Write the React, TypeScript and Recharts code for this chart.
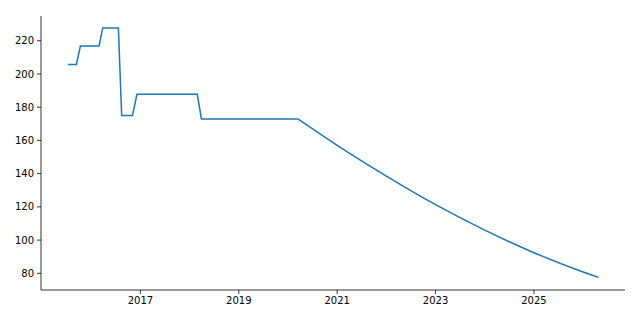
import React from "react";
import { LineChart, Line, XAxis, YAxis } from "recharts";

// step part: year (decimal) and value
const stepYears = [
  2015.53, 2015.7, 2015.78, 2016.16, 2016.235, 2016.553, 2016.62, 2016.84, 2016.93,
  2018.157, 2018.24, 2020.2,
];
const stepValues = [
  205.7, 205.7, 216.8, 216.8, 227.7, 227.7, 175.0, 175.0, 187.8,
  187.8, 172.9, 172.9,
];
// decaying part after 2020
const curveYears = [2020.2, 2021.0, 2022.0, 2023.0, 2024.0, 2025.0, 2026.0, 2026.31];
const curveValues = [172.9, 157.0, 138.5, 121.3, 106.0, 92.4, 80.8, 77.6];
const xTicks = [2017, 2019, 2021, 2023, 2025];
const yTicks = [80, 100, 120, 140, 160, 180, 200, 220];

const data = [
  ...stepYears.map((t, i) => ({ t, s: stepValues[i], c: null as number | null })),
  ...curveYears.map((t, i) => ({ t, s: null as number | null, c: curveValues[i] })),
];

const tickStyle = { fontSize: 10, fill: "#000", fontFamily: "DejaVu Sans" };

export default function App() {
  return (
    <div style={{ position: "absolute", left: 0, top: 0, background: "#fff" }}>
      <LineChart width={640} height={320} data={data} margin={{ top: 16, right: 15, bottom: 0, left: 0 }}>
        <XAxis
          dataKey="t"
          type="number"
          domain={[2014.98, 2026.85]}
          ticks={xTicks}
          allowDataOverflow
          height={30}
          tick={tickStyle}
          tickSize={4}
          tickMargin={3}
          stroke="#000"
          strokeWidth={0.8}
          tickFormatter={(v) => String(v)}
        />
        <YAxis
          type="number"
          domain={[69.95, 234.9]}
          ticks={yTicks}
          allowDataOverflow
          width={41}
          tick={tickStyle}
          tickSize={4}
          tickMargin={3}
          stroke="#000"
          strokeWidth={0.8}
        />
        <Line dataKey="s" type="linear" stroke="#1f77b4" strokeWidth={1.5} dot={false} isAnimationActive={false} />
        <Line dataKey="c" type="monotone" stroke="#1f77b4" strokeWidth={1.5} dot={false} isAnimationActive={false} />
      </LineChart>
    </div>
  );
}
